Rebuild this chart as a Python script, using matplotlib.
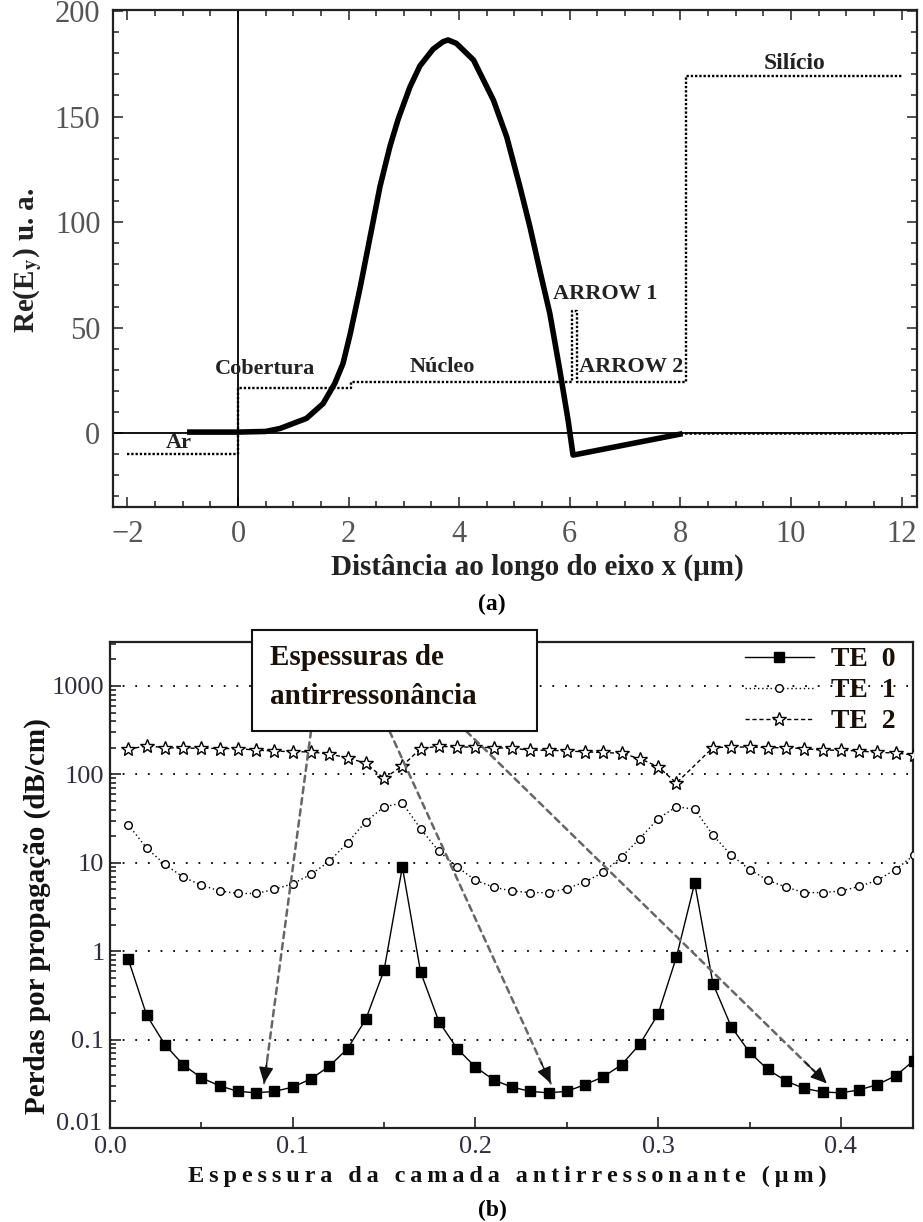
import matplotlib
matplotlib.use('Agg')
import matplotlib.pyplot as plt
import numpy as np
from matplotlib.ticker import MultipleLocator, FixedLocator, FixedFormatter, LogLocator, NullFormatter
from matplotlib.patches import Rectangle
from matplotlib.transforms import ScaledTranslation

SERIF = ['Liberation Serif', 'DejaVu Serif']
plt.rcParams['font.family'] = SERIF
plt.rcParams['mathtext.fontset'] = 'stix'

# ---------------- panel (a) data ----------------
field_x = [-0.87, 0.0, 0.5, 0.76, 1.24, 1.54, 1.75, 1.90, 2.03, 2.21, 2.39, 2.57, 2.75, 2.90,
           3.11, 3.29, 3.53, 3.71, 3.80, 3.95, 4.26, 4.62, 4.86, 5.10, 5.28, 5.46, 5.64,
           5.82, 5.97, 6.06, 7.99]
field_y = [0.5, 0.5, 0.8, 2.2, 7.0, 14.0, 23.5, 33.0, 47.0, 69.0, 93.0, 117.0, 136.0, 149.0,
           164.0, 174.0, 182.0, 185.5, 186.3, 184.7, 176.8, 157.8, 140.4, 116.7, 97.8, 77.0, 56.7,
           29.9, 6.2, -10.4, -0.5]
tail_x = [8.0, 12.0]
tail_y = [0.0, 0.0]
profile_x = [-2.0, 0.0, 0.0, 2.05, 2.05, 6.04, 6.04, 6.13, 6.13, 8.1, 8.1, 12.0]
profile_y = [-10.0, -10.0, 21.5, 21.5, 24.0, 24.0, 58.0, 58.0, 24.0, 24.0, 169.0, 169.0]
region_labels = ['Ar', 'Cobertura', 'Núcleo', 'ARROW 1', 'ARROW 2', 'Silício']
region_label_x = [-1.07, 0.49, 3.69, 6.64, 7.12, 10.06]
region_label_y = [-4.7, 30.3, 31.3, 66.0, 31.3, 175.0]
xticks_a = [-2, 0, 2, 4, 6, 8, 10, 12]
yticks_a = [0, 50, 100, 150, 200]

# ---------------- panel (b) data ----------------
thickness = [0.01, 0.02, 0.03, 0.04, 0.05, 0.06, 0.07, 0.08, 0.09, 0.10,
             0.11, 0.12, 0.13, 0.14, 0.15, 0.16, 0.17, 0.18, 0.19, 0.20,
             0.21, 0.22, 0.23, 0.24, 0.25, 0.26, 0.27, 0.28, 0.29, 0.30,
             0.31, 0.32, 0.33, 0.34, 0.35, 0.36, 0.37, 0.38, 0.39, 0.40,
             0.41, 0.42, 0.43, 0.44]
te0 = [0.81, 0.19, 0.088, 0.052, 0.037, 0.030, 0.026, 0.025, 0.026, 0.029,
       0.036, 0.050, 0.079, 0.17, 0.61, 9.0, 0.58, 0.16, 0.079, 0.049,
       0.035, 0.029, 0.026, 0.025, 0.026, 0.031, 0.038, 0.052, 0.089, 0.195,
       0.86, 5.9, 0.43, 0.14, 0.072, 0.046, 0.034, 0.028, 0.0256, 0.025,
       0.027, 0.031, 0.039, 0.058]
te1 = [27, 14.7, 9.6, 6.9, 5.6, 4.8, 4.5, 4.5, 5.0, 5.8,
       7.4, 10.4, 16.8, 29.3, 42.9, 47.6, 24.2, 13.5, 9.0, 6.35,
       5.3, 4.8, 4.6, 4.6, 5.1, 6.1, 7.8, 11.7, 18.8, 31.7,
       43.0, 40.4, 20.5, 12.2, 8.4, 6.35, 5.3, 4.6, 4.6, 4.8,
       5.4, 6.35, 8.4, 12.2]
te2 = [193, 210, 201, 198, 198, 196, 196, 188, 184, 180,
       180, 169, 155, 133, 90, 125, 196, 208, 204, 204,
       200, 198, 188, 188, 184, 180, 177, 173, 151, 122,
       80, np.nan, 201, 204, 204, 201, 200, 196, 188, 188,
       184, 177, 175, 165]
mode_labels = ['TE  0', 'TE  1', 'TE  2']
yticks_b = [0.01, 0.1, 1, 10, 100, 1000]
yticklabels_b = ['0.01', '0.1', '1', '10', '100', '1000']
xticks_b = [0.0, 0.1, 0.2, 0.3, 0.4]
xticklabels_b = ['0.0', '0.1', '0.2', '0.3', '0.4']
arrow_start_x = [0.110, 0.153, 0.195]
arrow_end_x = [0.0843, 0.2412, 0.3923]
arrow_start_y = 308.0
arrow_end_y = 0.032


def spaced(s, sep='\u2009'):
    return sep.join(list(s))


fig = plt.figure(figsize=(9.23, 12.22), dpi=100)

# ================= panel (a) =================
ax1 = fig.add_axes([0.1224, 0.5851, 0.8711, 0.4067])
ax1.set_xlim(-2.26, 12.28)
ax1.set_ylim(-35, 200.5)
ax1.axhline(0, color='black', lw=1.3, zorder=2)
ax1.axvline(0, color='black', lw=1.3, zorder=2)
ax1.plot(profile_x, profile_y, color='black', lw=1.7, ls=(0, (1, 0.8)), zorder=3)
ax1.plot(tail_x, tail_y, color='black', lw=1.8, ls=(0, (1, 0.8)), zorder=3)
ax1.plot(field_x, field_y, color='black', lw=4.0, solid_joinstyle='round', zorder=4)
for lab, lx, ly in zip(region_labels, region_label_x, region_label_y):
    ax1.text(lx, ly, lab, ha='center', va='center', fontsize=16 if lab != 'Silício' else 17,
             fontweight='bold', color='#222222', zorder=5)
ax1.xaxis.set_major_locator(FixedLocator(xticks_a))
ax1.xaxis.set_minor_locator(MultipleLocator(0.5))
ax1.yaxis.set_major_locator(FixedLocator(yticks_a))
ax1.yaxis.set_minor_locator(MultipleLocator(10))
ax1.set_xticklabels(['\u22122' if t < 0 else str(t) for t in xticks_a])
ax1.tick_params(which='both', direction='in', top=True, right=True, colors='#333333',
                labelcolor='#555555', width=1.2)
ax1.tick_params(which='major', length=7, labelsize=22, pad=9)
ax1.tick_params(which='minor', length=4)
for sp in ax1.spines.values():
    sp.set_linewidth(1.6)
    sp.set_color('#222222')
fig.text(0.582, 0.536, 'Distância ao longo do eixo x (μm)', ha='center', va='center',
         fontsize=21, fontweight='bold', color='#222222')
fig.text(0.030, 0.787, r'Re(E$_\mathbf{y}$) u. a.', ha='center', va='center', rotation=90,
         fontsize=21, fontweight='bold', color='#222222')
fig.text(0.533, 0.505, '(a)', ha='center', va='center', fontsize=17, fontweight='bold')

# ================= panel (b) =================
ax2 = fig.add_axes([0.1192, 0.0769, 0.870, 0.3977])
ax2.set_yscale('log')
ax2.set_xlim(0, 0.4395)
ax2.set_ylim(0.01, 3142)

x = np.array(thickness)
y2 = np.array(te2, dtype=float)
m = ~np.isnan(y2)
l0, = ax2.plot(x, te0, color='black', lw=1.0, ls='-', marker='s', ms=6.5,
               mfc='black', mec='black', zorder=4)
l1, = ax2.plot(x, te1, color='black', lw=1.0, ls=(0, (1, 2)), marker='o', ms=5.5,
               mfc='white', mec='black', mew=1.0, zorder=4)
l2, = ax2.plot(x[m], y2[m], color='black', lw=1.0, ls=(0, (3, 2)), marker='*', ms=10.5,
               mfc='white', mec='black', mew=1.0, zorder=4)

ax2.yaxis.set_major_locator(FixedLocator(yticks_b))
ax2.yaxis.set_major_formatter(FixedFormatter(yticklabels_b))
ax2.yaxis.set_minor_locator(LogLocator(base=10, subs=np.arange(2, 10)))
ax2.yaxis.set_minor_formatter(NullFormatter())
ax2.xaxis.set_major_locator(FixedLocator(xticks_b))
ax2.xaxis.set_major_formatter(FixedFormatter(xticklabels_b))
ax2.xaxis.set_minor_locator(MultipleLocator(0.05))
ax2.tick_params(which='both', direction='in', top=False, right=False, width=1.2,
                colors='#222222', labelcolor='#2e2e3e')
ax2.tick_params(which='major', length=8, labelsize=19, pad=4)
ax2.tick_params(which='minor', length=4)
ax2.tick_params(axis='x', which='major', pad=6)
ax2.yaxis.grid(True, which='major', linestyle=(0, (1, 6)), color='black', lw=1.3)
for sp in ax2.spines.values():
    sp.set_linewidth(1.6)
    sp.set_color('#222222')

# nudge the lowest y label up, as in the reference
first = ax2.yaxis.get_major_ticks()[0].label1
first.set_transform(first.get_transform() + ScaledTranslation(-2 / 72, 5 / 72, fig.dpi_scale_trans))

# arrows
for xs, xe in zip(arrow_start_x, arrow_end_x):
    ax2.annotate('', xy=(xe, arrow_end_y), xytext=(xs, arrow_start_y),
                 arrowprops=dict(arrowstyle='-', color='#666666', lw=1.8,
                                 linestyle=(0, (2.5, 2)), shrinkA=0, shrinkB=0), zorder=5)
    t = 0.94
    xm = xs + t * (xe - xs)
    ym = 10 ** (np.log10(arrow_start_y) + t * (np.log10(arrow_end_y) - np.log10(arrow_start_y)))
    ax2.annotate('', xy=(xe, arrow_end_y), xytext=(xm, ym),
                 arrowprops=dict(arrowstyle='-|>,head_length=1.0,head_width=0.45', color='#111111',
                                 lw=1.0, shrinkA=0, shrinkB=0), zorder=6)

# text box
box = Rectangle((0.1768, 0.8169), 0.355, 0.2078, transform=ax2.transAxes, clip_on=False,
                facecolor='white', edgecolor='#111111', lw=1.5, zorder=10)
ax2.add_patch(box)
ax2.text(0.1993, 0.969, 'Espessuras de', transform=ax2.transAxes, ha='left', va='center',
         fontsize=21, fontweight='bold', color='#1a1008', zorder=11)
ax2.text(0.1993, 0.887, 'antirressonância', transform=ax2.transAxes, ha='left', va='center',
         fontsize=21, fontweight='bold', color='#1a1008', zorder=11)

leg = ax2.legend([l0, l1, l2], mode_labels, loc='upper right', bbox_to_anchor=(0.978, 0.99),
                 frameon=False, prop={'family': SERIF, 'weight': 'bold', 'size': 20},
                 handlelength=2.5, handletextpad=0.6, labelspacing=0.2, borderaxespad=0,
                 borderpad=0, numpoints=1)
for txt in leg.get_texts():
    txt.set_color('#1a1008')

fig.text(0.040, 0.2504, 'Perdas por propagação (dB/cm)', ha='center', va='center', rotation=90,
         fontsize=21, fontweight='bold', color='#111111')
fig.text(0.55, 0.037, spaced('Espessura da camada antirressonante (μm)'), ha='center', va='center',
         fontsize=17.5, fontweight='bold', color='#111111')
fig.text(0.533, 0.0098, '(b)', ha='center', va='center', fontsize=17, fontweight='bold')

fig.savefig('out.png', dpi=100)
